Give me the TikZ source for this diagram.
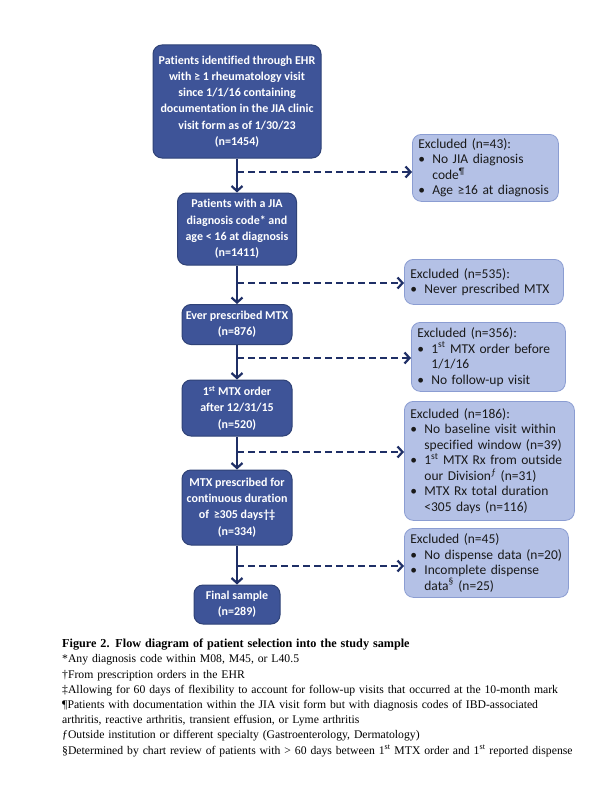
\documentclass[tikz,border=0pt]{standalone}
\usepackage{fontspec}
\setmainfont{Carlito}[Ligatures=NoCommon]
\newfontfamily\capfont{Liberation Serif}
\usetikzlibrary{arrows.meta,calc}
\definecolor{mainfill}{HTML}{3E5498}
\definecolor{mainedge}{HTML}{2F4277}
\definecolor{exfill}{HTML}{B4C1E6}
\definecolor{exedge}{HTML}{8B9DD2}
\definecolor{navy}{HTML}{1F2F66}
\definecolor{extext}{HTML}{1A1A1A}
\newcommand\bul{\makebox[14pt][l]{\textbullet}}
\newcommand\ind{\hspace*{14pt}}
\begin{document}
\begin{tikzpicture}[x=1pt,y=-1pt,
  mainbox/.style={draw=mainedge,fill=mainfill,line width=1pt,rounded corners=9pt,
    text=white,align=center,inner sep=0pt,font=\fontsize{12}{16.3}\selectfont\bfseries},
  exbox/.style={draw=exedge,fill=exfill,line width=0.8pt,rounded corners=9pt,
    text=extext,align=left,inner xsep=6pt,inner ysep=0pt,anchor=north west,
    font=\fontsize{13.5}{15.5}\selectfont},
  flowline/.style={draw=navy,line width=2.2pt,-{Straight Barb[length=5pt,width=11pt]}},
  dashline/.style={draw=navy,line width=2.2pt,dash pattern=on 7pt off 4pt,-{Straight Barb[length=5pt,width=11pt]}}
]
\useasboundingbox (0,0) rectangle (612,792);
\fill[white] (0,0) rectangle (612,792);

% main column
\node[mainbox,minimum width=168pt,minimum height=113pt] (b1) at (237,101.5)
  {Patients identified through EHR\\with ≥ 1 rheumatology visit\\since 1/1/16 containing\\documentation in the JIA clinic\\visit form as of 1/30/23\\(n=1454)};
\node[mainbox,minimum width=119pt,minimum height=72pt] (b2) at (237,229)
  {Patients with a JIA\\diagnosis code* and\\age < 16 at diagnosis\\(n=1411)};
\node[mainbox,minimum width=110pt,minimum height=40pt] (b3) at (237,324.5)
  {Ever prescribed MTX\\(n=876)};
\node[mainbox,minimum width=110pt,minimum height=56pt] (b4) at (237,408)
  {1\textsuperscript{st} MTX order\\after 12/31/15\\(n=520)};
\node[mainbox,minimum width=110pt,minimum height=75pt] (b5) at (237,507.5)
  {MTX prescribed for\\continuous duration\\of \,≥305 days†‡\\(n=334)};
\node[mainbox,minimum width=86pt,minimum height=39pt] (b6) at (237,604.5)
  {Final sample\\(n=289)};

% exclusion boxes
\node[exbox,minimum width=146pt,minimum height=67pt,text width=134pt] (e1) at (412,134)
  {Excluded (n=43):\\\bul No JIA diagnosis\\\ind code\textsuperscript{¶}\\\bul Age ≥16 at diagnosis};
\node[exbox,minimum width=159pt,minimum height=45pt,text width=147pt] (e2) at (404,259)
  {Excluded (n=535):\\\bul Never prescribed MTX};
\node[exbox,minimum width=154pt,minimum height=69pt,text width=142pt] (e3) at (411,322)
  {Excluded (n=356):\\\bul 1\textsuperscript{st} MTX order before\\\ind 1/1/16\\\bul No follow-up visit};
\node[exbox,minimum width=170pt,minimum height=119pt,text width=158pt] (e4) at (404,401)
  {Excluded (n=186):\\\bul No baseline visit within\\\ind specified window (n=39)\\\bul 1\textsuperscript{st} MTX Rx from outside\\\ind our Division\textsuperscript{ƒ} (n=31)\\\bul MTX Rx total duration\\\ind <305 days (n=116)};
\node[exbox,minimum width=164pt,minimum height=69pt,text width=152pt] (e5) at (404,528)
  {Excluded (n=45)\\\bul No dispense data (n=20)\\\bul Incomplete dispense\\\ind data\textsuperscript{§} (n=25)};

% connectors
\draw[flowline] (b1.south) -- (b2.north);
\draw[flowline] (b2.south) -- (b3.north);
\draw[flowline] (b3.south) -- (b4.north);
\draw[flowline] (b4.south) -- (b5.north);
\draw[flowline] (b5.south) -- (b6.north);

\coordinate (d1) at (237,172);
\coordinate (d2) at (237,283);
\coordinate (d3) at (237,358);
\coordinate (d4) at (237,452);
\coordinate (d5) at (237,566);
\draw[dashline] (d1) -- (d1 -| e1.west);
\draw[dashline] (d2) -- (d2 -| e2.west);
\draw[dashline] (d3) -- (d3 -| e3.west);
\draw[dashline] (d4) -- (d4 -| e4.west);
\draw[dashline] (d5) -- (d5 -| e5.west);

% caption
\node[anchor=north west,inner sep=0pt,align=left,text width=548pt,
  font=\capfont\fontsize{11.7}{15.2}\selectfont] (cap) at (62,639)
  {{\fontsize{12.2}{15.2}\selectfont\textbf{Figure 2. Flow diagram of patient selection into the study sample}}\\
  {*}Any diagnosis code within M08, M45, or L40.5\\
  †From prescription orders in the EHR\\
  ‡Allowing for 60 days of flexibility to account for follow-up visits that occurred at the 10-month mark\\
  ¶Patients with documentation within the JIA visit form but with diagnosis codes of IBD-associated\\
  arthritis, reactive arthritis, transient effusion, or Lyme arthritis\\
  ƒOutside institution or different specialty (Gastroenterology, Dermatology)\\
  §Determined by chart review of patients with > 60 days between 1\textsuperscript{st} MTX order and 1\textsuperscript{st} reported dispense};
\end{tikzpicture}
\end{document}
